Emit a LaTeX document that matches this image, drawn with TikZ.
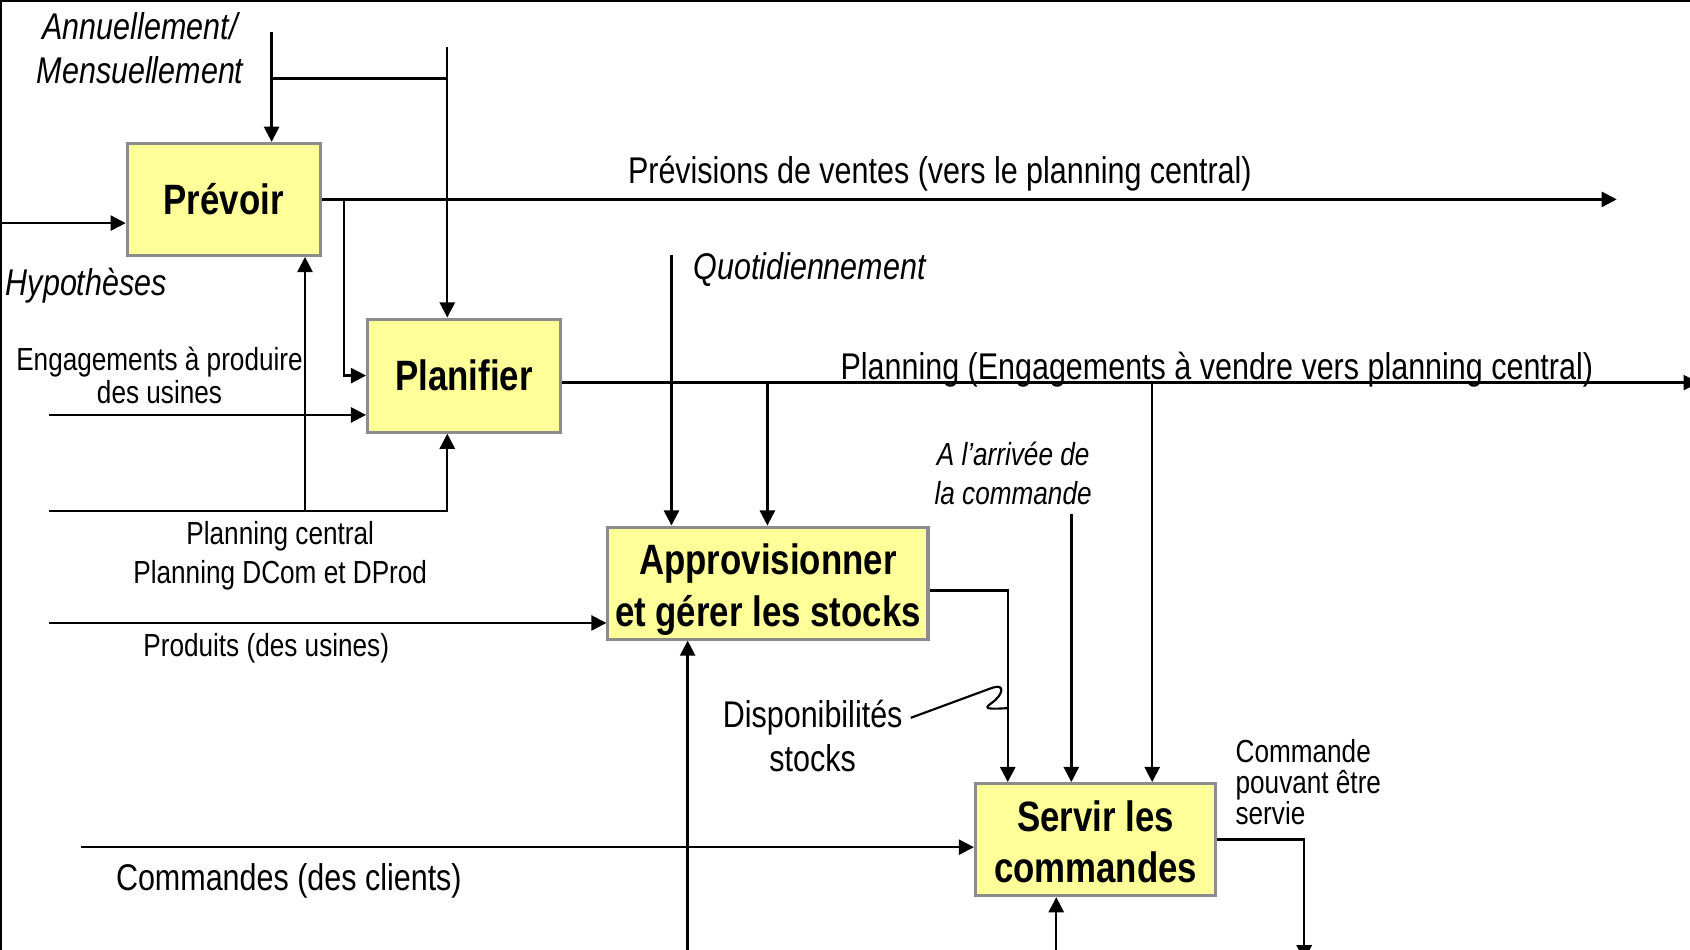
\documentclass[tikz,border=0pt]{standalone}
\usepackage{fontspec}
\setmainfont{Liberation Sans}[FakeStretch=0.82]
\usetikzlibrary{arrows.meta}
\definecolor{boxfill}{HTML}{FFFF99}
\definecolor{boxline}{HTML}{8C8C8C}
\begin{document}
\begin{tikzpicture}[x=0.5pt,y=-0.5pt,
  flow/.style={line width=1.1pt, -{Triangle[length=7pt,width=7pt]}},
  wire/.style={line width=1.1pt},
  callout/.style={line width=1pt},
  activity/.style={draw=boxline, line width=1.4pt, fill=boxfill,
    font=\fontsize{19.7}{23.75}\selectfont\bfseries, align=center,
    inner sep=0pt, minimum height=52pt},
  lbl/.style={font=\fontsize{17.25}{20.5}\selectfont, inner sep=0pt, align=center},
  ilbl/.style={font=\fontsize{17.25}{20.5}\selectfont\itshape, inner sep=0pt, align=center},
  sml/.style={font=\fontsize{14.8}{18}\selectfont, inner sep=0pt, align=center},
  isml/.style={font=\fontsize{14.8}{18}\selectfont\itshape, inner sep=0pt, align=center},
]
\useasboundingbox (0,0) rectangle (1568,881);
\clip (0,0) rectangle (1568,881);

% frame edges
\draw[line width=1pt] (1,881) -- (1,1) -- (1568,1);

% activities
\node[activity, minimum width=89.5pt] (prevoir) at (207.5,185) {Prévoir};
\node[activity, minimum width=89.5pt, minimum height=52.5pt] (planifier) at (430.5,348.5) {Planifier};
\node[activity, minimum width=148.5pt] (appro) at (712.5,541) {\rule{0pt}{20.4pt}Approvisionner\\et gérer les stocks};
\node[activity, minimum width=111.5pt] (servir) at (1016.5,779) {\rule{0pt}{16.4pt}Servir les\\commandes};

% free ends of the flows
\coordinate (annuTop) at (252,30);
\coordinate (freqJoin) at (252,73);
\coordinate (ctrlTop) at (415,44);
\coordinate (prevEnd) at (1500,185);
\coordinate (prevSplit) at (319,185);
\coordinate (hypIn) at (0,207);
\coordinate (engIn) at (45,385);
\coordinate (pcIn) at (45,474);
\coordinate (pcUp) at (283,474);
\coordinate (planOut) at (1576,355);
\coordinate (planSplitA) at (712,355);
\coordinate (planSplitB) at (1069,355);
\coordinate (quotTop) at (623,237);
\coordinate (prodIn) at (45,578);
\coordinate (stockOut) at (935,548);
\coordinate (apBottom) at (638,892);
\coordinate (arrTop) at (994,477);
\coordinate (cmdIn) at (75,786);
\coordinate (svBottom) at (980,892);
\coordinate (svOut) at (1210,891);

% controls from above
\draw[flow] (annuTop) -- (annuTop |- prevoir.north);
\draw[wire] (freqJoin) -- (freqJoin -| ctrlTop);
\draw[flow] (ctrlTop) -- (ctrlTop |- planifier.north);
\draw[flow] (quotTop) -- (quotTop |- appro.north);
\draw[flow] (arrTop) -- (arrTop |- servir.north);

% Prévoir
\draw[flow] (hypIn) -- (hypIn -| prevoir.west);
\draw[flow] (prevoir.east) -- (prevEnd);
\draw[flow] (prevSplit) |- (planifier.west);

% Planifier
\draw[flow] (engIn) -- (engIn -| planifier.west);
\draw[flow] (pcIn) -| (ctrlTop |- planifier.south);
\draw[flow] (pcUp) -- (pcUp |- prevoir.south);
\draw[flow] (planOut -| planifier.east) -- (planOut);
\draw[flow] (planSplitA) -- (planSplitA |- appro.north);
\draw[flow] (planSplitB) -- (planSplitB |- servir.north);

% Approvisionner
\draw[flow] (prodIn) -- (prodIn -| appro.west);
\draw[flow] (apBottom) -- (apBottom |- appro.south);
\draw[flow] (stockOut -| appro.east) -| (stockOut |- servir.north);

% Servir
\draw[flow] (cmdIn) -- (cmdIn -| servir.west);
\draw[flow] (svBottom) -- (svBottom |- servir.south);
\draw[flow] (servir.east) -| (svOut);

% labels
\node[ilbl] (freq) at (130,45) {Annuellement/\\Mensuellement};
\node[lbl] (prevLbl) at (872,161) {Prévisions de ventes (vers le planning central)};
\node[ilbl, anchor=west] (hyp) at (5,265) {Hypothèses};
\node[sml, font=\fontsize{14.8}{15.5}\selectfont] (eng) at (148,348.5) {Engagements à produire\\des usines};
\node[sml] (pc) at (260,516) {Planning central\\Planning DCom et DProd};
\node[ilbl, anchor=west] (quot) at (643,250) {Quotidiennement};
\node[lbl] (planLbl) at (1129,343) {Planning (Engagements à vendre vers planning central)};
\node[sml] (prod) at (247,601) {Produits (des usines)};
\node[isml] (arr) at (940,439) {A l’arrivée de\\la commande};
\node[lbl] (dispo) at (754,683) {Disponibilités\\stocks};
\node[sml, align=left, anchor=west, font=\fontsize{14.8}{14.25}\selectfont] (served) at (1146,725.5) {Commande\\pouvant être\\servie};
\node[lbl] (cmd) at (268,817) {Commandes (des clients)};

% callout from the stock label to its flow
\draw[callout] (845,666) -- (921,638) .. controls (933,634) and (931,645) .. (919,653)
  .. controls (912,658) and (918,658) .. (935,657);
\end{tikzpicture}
\end{document}
